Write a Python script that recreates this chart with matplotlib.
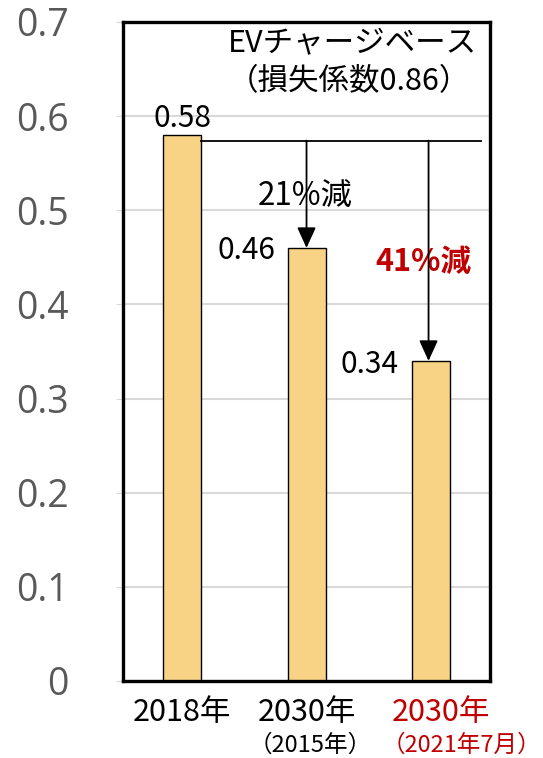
import numpy as np
import matplotlib.pyplot as plt
from matplotlib.patches import FancyArrowPatch

plt.rcParams['font.family'] = ['Noto Sans CJK JP', 'DejaVu Sans']

# data
years = ['2018年', '2030年', '2030年']
sub_labels = ['', '（2015年）', '（2021年7月）']
label_colors = ['black', 'black', '#C00000']
values = [0.58, 0.46, 0.34]
value_text = ['0.58', '0.46', '0.34']
reductions = ['21%減', '41%減']
yticks = [0, 0.1, 0.2, 0.3, 0.4, 0.5, 0.6, 0.7]

red = '#C00000'
bar_color = '#F8D386'

fig = plt.figure(figsize=(5.43, 7.58), dpi=100)
ax = fig.add_axes([0.2265, 0.1016, 0.676, 0.8694])

x = np.arange(len(values))
ax.bar(x, values, width=0.305, color=bar_color, edgecolor='black', linewidth=1.0, zorder=3)

ax.set_xlim(-0.474, 2.474)
ax.set_ylim(0, 0.7)
ax.set_yticks(yticks)
ax.set_yticklabels(['0' if v == 0 else f'{v:.1f}' for v in yticks],
                   fontsize=27, color='#595959', family='Open Sans')
ax.tick_params(axis='y', length=5, color='#D9D9D9', pad=34)
ax.set_xticks([])
ax.grid(axis='y', color='#D9D9D9', linewidth=1.5, zorder=0)
for s in ax.spines.values():
    s.set_linewidth(2.4)
    s.set_color('black')
    s.set_zorder(5)

# reference line from 2018 level
ref = 0.574
ax.plot([0.1525, 2.40], [ref, ref], color='black', linewidth=1.3, zorder=4)
for xa, v in [(1.0, values[1]), (1.98, values[2])]:
    ax.add_patch(FancyArrowPatch((xa, ref), (xa, v), arrowstyle='-|>,head_length=0.7,head_width=0.32',
                                 mutation_scale=18, color='black', linewidth=1.3,
                                 shrinkA=0, shrinkB=0, zorder=4))

# value labels
ax.text(0, 0.597, value_text[0], ha='center', va='center', fontsize=21.5)
ax.text(0.747, 0.457, value_text[1], ha='right', va='center', fontsize=21.5)
ax.text(1.735, 0.336, value_text[2], ha='right', va='center', fontsize=21.5)

ax.text(0.988, 0.515, reductions[0], ha='center', va='center', fontsize=22.5)
ax.text(1.935, 0.445, reductions[1], ha='center', va='center', fontsize=22,
        color=red, weight='bold')

ax.text(0.369, 0.677, 'EVチャージベース', ha='left', va='center', fontsize=22)
ax.text(0.369, 0.637, '（損失係数0.86）', ha='left', va='center', fontsize=22)

# category labels
x_main = [0, 1.0, 2.08]
x_sub = [0, 1.03, 2.245]
for i in range(len(years)):
    ax.text(x_main[i], -0.033, years[i], ha='center', va='center', fontsize=22,
            color=label_colors[i], clip_on=False)
    if sub_labels[i]:
        ax.text(x_sub[i], -0.068, sub_labels[i], ha='center', va='center', fontsize=17,
                color=label_colors[i], clip_on=False)

fig.savefig('out.png', dpi=100)
